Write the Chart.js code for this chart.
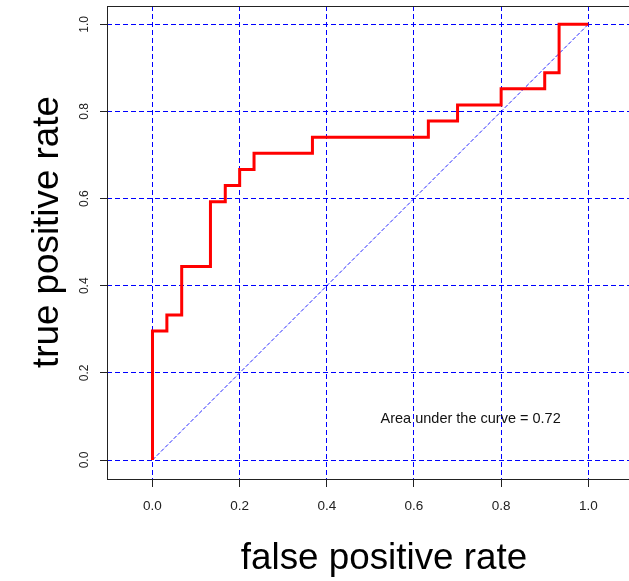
<!DOCTYPE html>
<html>
<head>
<meta charset="utf-8">
<title>ROC curve</title>
<script src="https://cdn.jsdelivr.net/npm/chart.js@4.4.1/dist/chart.umd.min.js"></script>
<style>
    html, body { margin: 0; padding: 0; background: #fff; overflow: hidden; }
    canvas { display: block; }
</style>
</head>
<body>
<canvas id="rocChart" width="629" height="581"></canvas>
<script>
// ROC curve corners (false positive rate, true positive rate)
const fprSteps = [0, 0, 0.033, 0.067, 0.133, 0.167, 0.2, 0.233, 0.367, 0.633, 0.7, 0.8, 0.9, 0.933, 1.0];
const tprSteps = [0, 0.296, 0.333, 0.444, 0.593, 0.63, 0.667, 0.704, 0.741, 0.778, 0.815, 0.852, 0.889, 1.0, 1.0];

// chance diagonal
const diagX = [0, 1];
const diagY = [0, 1];

const xTickValues = [0, 0.2, 0.4, 0.6, 0.8, 1.0];
const yTickValues = [0, 0.2, 0.4, 0.6, 0.8, 1.0];

const xTitle = 'false positive rate';
const yTitle = 'true positive rate';
const aucLabel = 'Area under the curve = 0.72';
const aucLabelAt = [0.73, 0.094];

const FONT = '"Liberation Sans", Arial, sans-serif';

function toPoints(xs, ys) {
    return xs.map((x, i) => ({ x: x, y: ys[i] }));
}

const rocDecor = {
    id: 'rocDecor',
    afterDraw(chart) {
        const { ctx, chartArea, scales } = chart;
        ctx.save();

        // plot box
        ctx.strokeStyle = '#222';
        ctx.lineWidth = 1;
        ctx.strokeRect(chartArea.left + 0.5, chartArea.top + 0.5,
            chartArea.right - chartArea.left, chartArea.bottom - chartArea.top);

        // AUC note
        ctx.fillStyle = '#111';
        ctx.font = '14.5px ' + FONT;
        ctx.textAlign = 'center';
        ctx.textBaseline = 'middle';
        ctx.fillText(aucLabel, scales.x.getPixelForValue(aucLabelAt[0]), scales.y.getPixelForValue(aucLabelAt[1]));

        // axis titles
        ctx.fillStyle = '#000';
        ctx.font = '36.8px ' + FONT;
        ctx.textBaseline = 'alphabetic';
        ctx.fillText(xTitle, 384, 569);

        ctx.translate(58, 232);
        ctx.rotate(-Math.PI / 2);
        ctx.fillText(yTitle, 0, 0);

        ctx.restore();
    }
};

const ctx = document.getElementById('rocChart').getContext('2d');
new Chart(ctx, {
    type: 'line',
    data: {
        datasets: [{
            label: 'ROC',
            data: toPoints(fprSteps, tprSteps),
            borderColor: '#ff0000',
            borderWidth: 3,
            borderJoinStyle: 'miter',
            stepped: 'before',
            pointRadius: 0,
            fill: false,
            order: 0
        }, {
            label: 'chance',
            data: toPoints(diagX, diagY),
            borderColor: 'rgba(0, 0, 255, 0.85)',
            borderWidth: 1,
            borderDash: [4, 2],
            pointRadius: 0,
            fill: false,
            order: 1
        }]
    },
    options: {
        responsive: false,
        animation: false,
        devicePixelRatio: 1,
        layout: {
            padding: { top: 6, right: 0, bottom: 0, left: 0 }
        },
        scales: {
            x: {
                type: 'linear',
                min: -0.1044,
                max: 1.0934,
                afterBuildTicks: function (scale) {
                    scale.ticks = xTickValues.map(v => ({ value: v }));
                },
                afterFit: function (scale) {
                    scale.height = 102;
                    scale.paddingLeft = 0;
                    scale.paddingRight = 0;
                },
                ticks: {
                    autoSkip: false,
                    maxRotation: 0,
                    padding: 11,
                    color: '#222',
                    font: { family: FONT, size: 13.5 },
                    callback: function (value) {
                        return value.toFixed(1);
                    }
                },
                grid: {
                    color: '#0000ff',
                    lineWidth: 1,
                    tickLength: 8,
                    tickColor: '#222',
                    tickBorderDash: []
                },
                border: {
                    display: false,
                    dash: [5, 3]
                }
            },
            y: {
                type: 'linear',
                min: -0.0436,
                max: 1.042,
                afterBuildTicks: function (scale) {
                    scale.ticks = yTickValues.map(v => ({ value: v }));
                },
                afterFit: function (scale) {
                    scale.width = 107;
                    scale.paddingTop = 0;
                    scale.paddingBottom = 0;
                },
                ticks: {
                    autoSkip: false,
                    minRotation: 90,
                    maxRotation: 90,
                    crossAlign: 'center',
                    padding: 7,
                    color: '#222',
                    font: { family: FONT, size: 12 },
                    callback: function (value) {
                        return value.toFixed(1);
                    }
                },
                grid: {
                    color: '#0000ff',
                    lineWidth: 1,
                    tickLength: 7,
                    tickColor: '#222',
                    tickBorderDash: []
                },
                border: {
                    display: false,
                    dash: [5, 3]
                }
            }
        },
        plugins: {
            legend: { display: false },
            tooltip: { enabled: false }
        }
    },
    plugins: [rocDecor]
});
</script>
</body>
</html>
